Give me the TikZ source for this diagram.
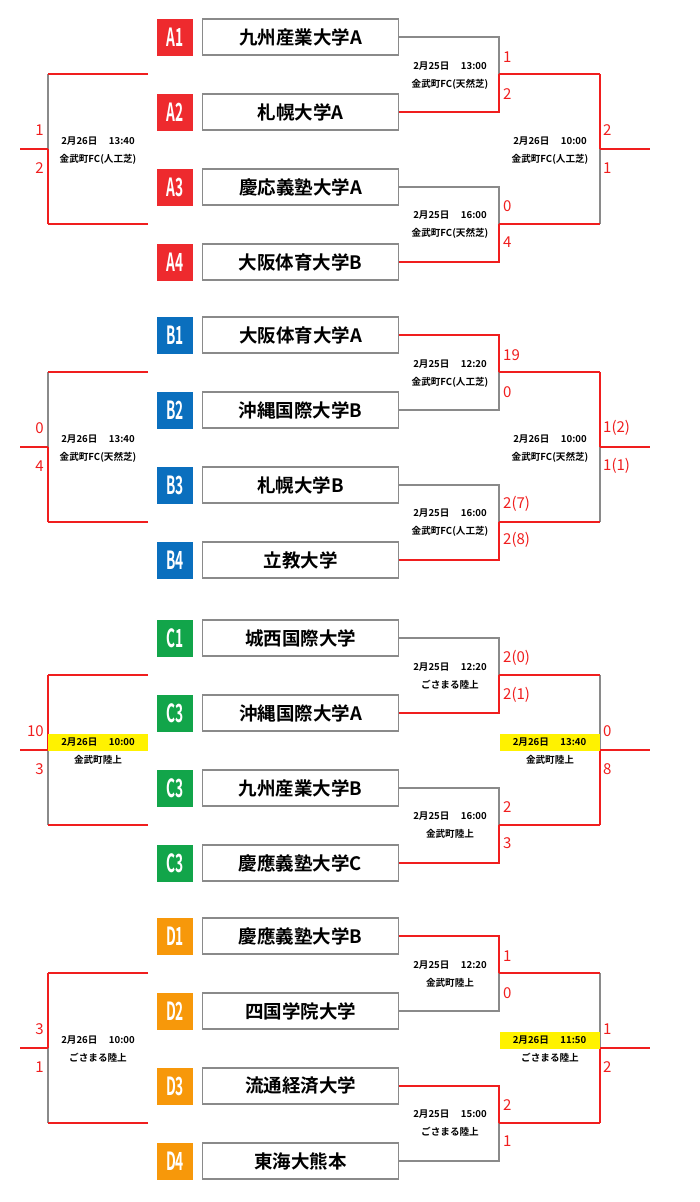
\documentclass[tikz,border=0pt]{standalone}
\usepackage{fontspec}
\setmainfont{Noto Sans CJK JP}[BoldFont={Noto Sans CJK JP Bold}]
\definecolor{lg}{HTML}{8A8A8A}
\definecolor{wr}{HTML}{F01E1E}
\definecolor{cA}{HTML}{EE2A2E}
\definecolor{cB}{HTML}{0A6FBE}
\definecolor{cC}{HTML}{12A54A}
\definecolor{cD}{HTML}{F7980A}
\definecolor{hy}{HTML}{FFF200}
\tikzset{
 base/.style={draw=lg,line width=1.6pt},
 win/.style={draw=wr,line width=1.6pt},
 team/.style={draw=lg,line width=1.6pt,minimum width=196pt,minimum height=36pt,inner sep=0pt,font=\fontsize{18.5}{18.5}\selectfont\bfseries},
 tag/.style={minimum width=36pt,minimum height=37pt,inner sep=0pt,text=white,font=\fontsize{25}{25}\selectfont\bfseries},
 info/.style={font=\fontsize{9.6}{9.6}\selectfont\bfseries,inner sep=0pt,minimum width=100pt,minimum height=17pt},
 score/.style={text=wr,font=\fontsize{15}{15}\selectfont,inner sep=0pt,anchor=west},
 lscore/.style={text=wr,font=\fontsize{15}{15}\selectfont,inner sep=0pt,anchor=east}
}
\newcommand\Grp[8]{%
 \begin{scope}[yshift=-#1pt]
 \foreach \i/\yy/\nm/\tg in {1/37/#4,2/112/#5,3/187/#6,4/262/#7}{}%
 \foreach \i/\yy/\nm in {1/37/#4,2/112/#5,3/187/#6,4/262/#7}{
  \node[team] (#2b\i) at (300.5,\yy) {\nm};
  \coordinate (#2v\i) at (499,\yy);
 }
 \foreach \i/\yy/\tg in {#8}{
  \node[tag,fill=#3] (#2t\i) at (175,\yy) {\scalebox{0.55}[1]{\tg}};
 }
 \coordinate (#2m1) at (499,74); \coordinate (#2m2) at (499,224);
 \coordinate (#2o1) at (600,74); \coordinate (#2o2) at (600,224);
 \coordinate (#2c) at (600,149); \coordinate (#2e) at (650,149);
 \coordinate (#2l1) at (148,74); \coordinate (#2l2) at (148,224);
 \coordinate (#2p1) at (48,74); \coordinate (#2p2) at (48,224);
 \coordinate (#2q) at (48,149); \coordinate (#2s) at (20,149);
 \draw[base] (#2b1.east) -- (#2v1) -- (#2v2) -- (#2b2.east);
 \draw[base] (#2b3.east) -- (#2v3) -- (#2v4) -- (#2b4.east);
 \draw[base] (#2o1) -- (#2o2);
 \draw[base] (#2p1) -- (#2p2);
 \draw[win] (#2m1) -- (#2o1) (#2m2) -- (#2o2) (#2c) -- (#2e);
 \draw[win] (#2l1) -- (#2p1) (#2l2) -- (#2p2) (#2q) -- (#2s);
 \end{scope}}
\newcommand\Info[5]{% y-offset, x, y, date, venue
 \node[info] at (#2,#3+#1) {#4};
 \node[info] at (#2,#3+#1+18) {#5};}
\begin{document}
\begin{tikzpicture}[x=1pt,y=-1pt]
\useasboundingbox (0,0) rectangle (700,1202);
% ---------- A
\Grp{0}{A}{cA}{九州産業大学A}{札幌大学A}{慶応義塾大学A}{大阪体育大学B}{1/37/A1,2/112/A2,3/187/A3,4/262/A4}
\draw[win] (Ab2.east) -- (Av2) -- (Am1) (Ab4.east) -- (Av4) -- (Am2) (Ao1) -- (Ac) (Ap2) -- (Aq);
\Info{0}{450}{66}{2月25日\hspace{1.2em}13:00}{金武町FC(天然芝)}
\Info{0}{450}{215}{2月25日\hspace{1.2em}16:00}{金武町FC(天然芝)}
\Info{0}{98}{141}{2月26日\hspace{1.2em}13:40}{金武町FC(人工芝)}
\Info{0}{550}{141}{2月26日\hspace{1.2em}10:00}{金武町FC(人工芝)}
\node[score] at (503,57) {1}; \node[score] at (503,94) {2};
\node[score] at (503,206) {0}; \node[score] at (503,242) {4};
\node[score] at (603,130) {2}; \node[score] at (603,168) {1};
\node[lscore] at (44,130) {1}; \node[lscore] at (44,168) {2};
% ---------- B
\Grp{298}{B}{cB}{大阪体育大学A}{沖縄国際大学B}{札幌大学B}{立教大学}{1/37/B1,2/112/B2,3/187/B3,4/262/B4}
\begin{scope}[yshift=-298pt]
\draw[win] (Bb1.east) -- (Bv1) -- (Bm1) (Bb4.east) -- (Bv4) -- (Bm2) (Bo1) -- (Bc) (Bp2) -- (Bq);
\Info{0}{450}{66}{2月25日\hspace{1.2em}12:20}{金武町FC(人工芝)}
\Info{0}{450}{215}{2月25日\hspace{1.2em}16:00}{金武町FC(人工芝)}
\Info{0}{98}{141}{2月26日\hspace{1.2em}13:40}{金武町FC(天然芝)}
\Info{0}{550}{141}{2月26日\hspace{1.2em}10:00}{金武町FC(天然芝)}
\node[score] at (503,57) {19}; \node[score] at (503,94) {0};
\node[score] at (503,206) {2(7)}; \node[score] at (503,242) {2(8)};
\node[score] at (603,130) {1(2)}; \node[score] at (603,168) {1(1)};
\node[lscore] at (44,130) {0}; \node[lscore] at (44,168) {4};
\end{scope}
% ---------- C
\Grp{601}{C}{cC}{城西国際大学}{沖縄国際大学A}{九州産業大学B}{慶應義塾大学C}{1/37/C1,2/112/C3,3/187/C3,4/262/C3}
\begin{scope}[yshift=-601pt]
\draw[win] (Cb2.east) -- (Cv2) -- (Cm1) (Cb4.east) -- (Cv4) -- (Cm2) (Co2) -- (Cc) (Cp1) -- (Cq);
\Info{0}{450}{66}{2月25日\hspace{1.2em}12:20}{ごさまる陸上}
\Info{0}{450}{215}{2月25日\hspace{1.2em}16:00}{金武町陸上}
\node[info,fill=hy] at (98,141) {2月26日\hspace{1.2em}10:00}; \node[info] at (98,159) {金武町陸上};
\node[info,fill=hy] at (549.5,141) {2月26日\hspace{1.2em}13:40}; \node[info] at (550,159) {金武町陸上};
\node[score] at (503,57) {2(0)}; \node[score] at (503,94) {2(1)};
\node[score] at (503,206) {2}; \node[score] at (503,242) {3};
\node[score] at (603,130) {0}; \node[score] at (603,168) {8};
\node[lscore] at (44,130) {10}; \node[lscore] at (44,168) {3};
\end{scope}
% ---------- D
\Grp{899}{D}{cD}{慶應義塾大学B}{四国学院大学}{流通経済大学}{東海大熊本}{1/37/D1,2/112/D2,3/187/D3,4/262/D4}
\begin{scope}[yshift=-899pt]
\draw[win] (Db1.east) -- (Dv1) -- (Dm1) (Db3.east) -- (Dv3) -- (Dm2) (Do2) -- (Dc) (Dp1) -- (Dq);
\Info{0}{450}{66}{2月25日\hspace{1.2em}12:20}{金武町陸上}
\Info{0}{450}{215}{2月25日\hspace{1.2em}15:00}{ごさまる陸上}
\Info{0}{98}{141}{2月26日\hspace{1.2em}10:00}{ごさまる陸上}
\node[info,fill=hy] at (549.5,141) {2月26日\hspace{1.2em}11:50}; \node[info] at (550,159) {ごさまる陸上};
\node[score] at (503,57) {1}; \node[score] at (503,94) {0};
\node[score] at (503,206) {2}; \node[score] at (503,242) {1};
\node[score] at (603,130) {1}; \node[score] at (603,168) {2};
\node[lscore] at (44,130) {3}; \node[lscore] at (44,168) {1};
\end{scope}
\end{tikzpicture}
\end{document}
